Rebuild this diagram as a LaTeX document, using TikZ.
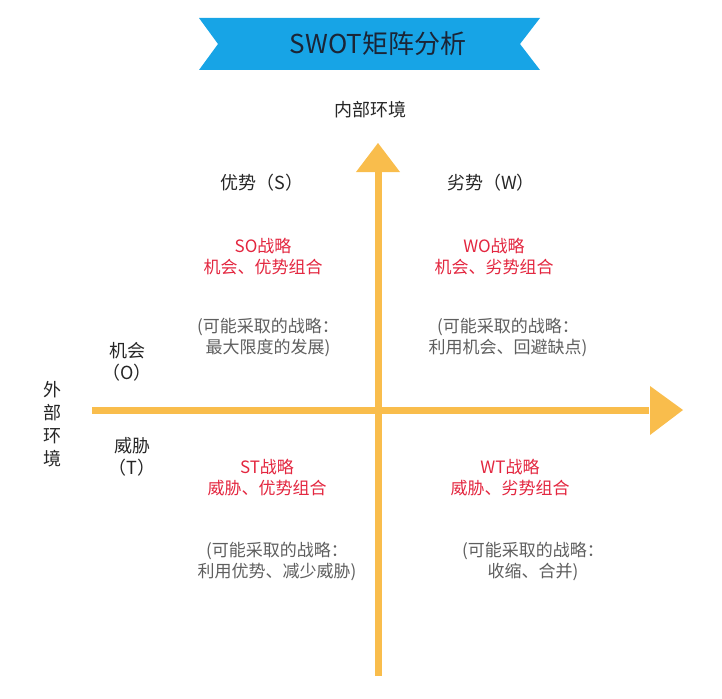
\documentclass[tikz,border=0pt]{standalone}
\usepackage{fontspec}
\newfontfamily\cjk{Noto Sans CJK SC}
\definecolor{axisorange}{HTML}{F9BD4C}
\definecolor{bannerblue}{HTML}{17A4E6}
\definecolor{titleink}{HTML}{1B2536}
\definecolor{planred}{HTML}{E3263F}
\definecolor{notegray}{HTML}{5E5E5E}

\begin{document}
\begin{tikzpicture}[x=1pt,y=-1pt,
    every node/.style={font=\cjk\fontsize{17pt}{21pt}\selectfont, align=center, text=black!85, inner sep=0pt},
    heading/.style={font=\cjk\fontsize{18pt}{22pt}\selectfont},
    plan/.style={text=planred},
    note/.style={text=notegray},
    axisline/.style={draw=axisorange, line width=7pt},
    axishead/.style={fill=axisorange}]
    \useasboundingbox (0,0) rectangle (722,698);
    % title banner
    \fill[bannerblue] (199,18) -- (540,18) -- (520,44) -- (540,70) -- (199,70) -- (218,44) -- cycle;
    \node[text=titleink, font=\cjk\fontsize{26pt}{30pt}\selectfont] (title) at (378,44) {SWOT矩阵分析};
    % axes
    \coordinate (vbottom) at (378,676);
    \coordinate (vbase) at (378,172);
    \coordinate (vtip) at (378,143);
    \coordinate (hleft) at (92,410);
    \coordinate (hbase) at (650,410);
    \coordinate (htip) at (683,410);
    \draw[axisline] (vbottom) -- ([yshift=1pt]vbase);
    \fill[axishead] ([xshift=-22pt]vbase) -- ([xshift=22pt]vbase) -- (vtip) -- cycle;
    \draw[axisline] (hleft) -- ([xshift=-1pt]hbase);
    \fill[axishead] ([yshift=-25pt]hbase) -- ([yshift=24pt]hbase) -- (htip) -- cycle;
    % axis labels
    \node[heading] (inner) at (370,110) {内部环境};
    \node[font=\cjk\fontsize{18pt}{23pt}\selectfont] (outer) at (52,424) {外\\部\\环\\境};
    \node[heading] (strength) at (262,183) {优势（S）};
    \node[heading] (weakness) at (491,183) {劣势（W）};
    \node[heading] (chance) at (127,362) {机会\\（O）};
    \node[heading] (threat) at (132,457) {威胁\\（T）};
    % quadrants
    \node[plan] (so) at (263,257) {SO战略\\机会、优势组合};
    \node[plan] (wo) at (494,257) {WO战略\\机会、劣势组合};
    \node[plan] (st) at (267,478) {ST战略\\威胁、优势组合};
    \node[plan] (wt) at (510,478) {WT战略\\威胁、劣势组合};
    \node[note] (sonote) at (268,337) {(可能采取的战略：\\最大限度的发展)};
    \node[note] (wonote) at (508,337) {(可能采取的战略：\\利用机会、回避缺点)};
    \node[note] (stnote) at (277,561) {(可能采取的战略：\\利用优势、减少威胁)};
    \node[note] (wtnote) at (533,561) {(可能采取的战略：\\收缩、合并)};
\end{tikzpicture}
\end{document}
